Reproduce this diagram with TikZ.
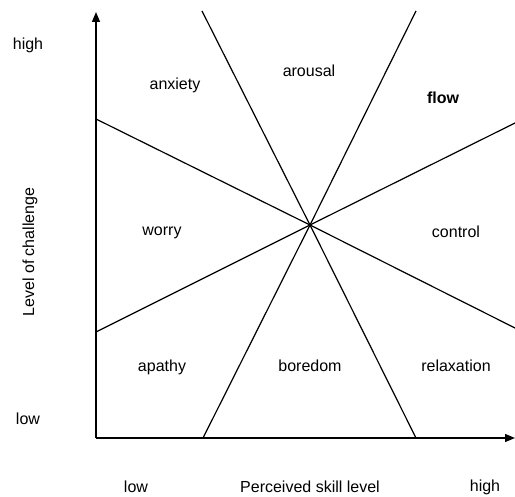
\documentclass[tikz,border=0pt]{standalone}
\usepackage{fontspec}
\setmainfont{Liberation Sans}
\usetikzlibrary{arrows.meta}
\begin{document}
\begin{tikzpicture}[x=1pt,y=-1pt,
  lbl/.style={font=\fontsize{16}{19}\selectfont, inner sep=0pt},
  axis/.style={line width=1.4pt, -{Triangle[length=10pt,width=8pt]}},
  zone/.style={line width=1.2pt}]
\useasboundingbox (0,0) rectangle (515,497);
% axes
\coordinate (o) at (96,438);
\coordinate (ytip) at (96,12);
\coordinate (xtip) at (515,438);
\draw[axis] (o) -- (ytip);
\draw[axis] (o) -- (xtip);
% centre and line ends
\coordinate (c) at (310,225);
\coordinate (a1) at (202,11);
\coordinate (a2) at (416,438);
\coordinate (b1) at (416,11);
\coordinate (b2) at (203,438);
\coordinate (d1) at (96,119);
\coordinate (d2) at (515,123);
\coordinate (e1) at (96,332);
\coordinate (e2) at (515,328);
\draw[zone] (a1) -- (c) -- (a2);
\draw[zone] (b1) -- (c) -- (b2);
\draw[zone] (d1) -- (c) -- (d2);
\draw[zone] (e1) -- (c) -- (e2);
% region labels
\node[lbl] (anx) at (175,85) {anxiety};
\node[lbl] (aro) at (309,71) {arousal};
\node[lbl,font=\fontsize{16}{19}\selectfont\bfseries] (flw) at (443,98) {flow};
\node[lbl] (wor) at (162,233) {worry};
\node[lbl] (con) at (456,232) {control};
\node[lbl] (apa) at (162,367) {apathy};
\node[lbl] (bor) at (310,366) {boredom};
\node[lbl] (rel) at (456,366) {relaxation};
% axis labels
\node[lbl] (yhigh) at (28,45) {high};
\node[lbl] (ylow) at (28,419) {low};
\node[lbl,rotate=90] (ylab) at (30,252) {Level of challenge};
\node[lbl] (xlow) at (136,487) {low};
\node[lbl] (xlab) at (310,487) {Perceived skill level};
\node[lbl] (xhigh) at (485,487) {high};
\end{tikzpicture}
\end{document}
